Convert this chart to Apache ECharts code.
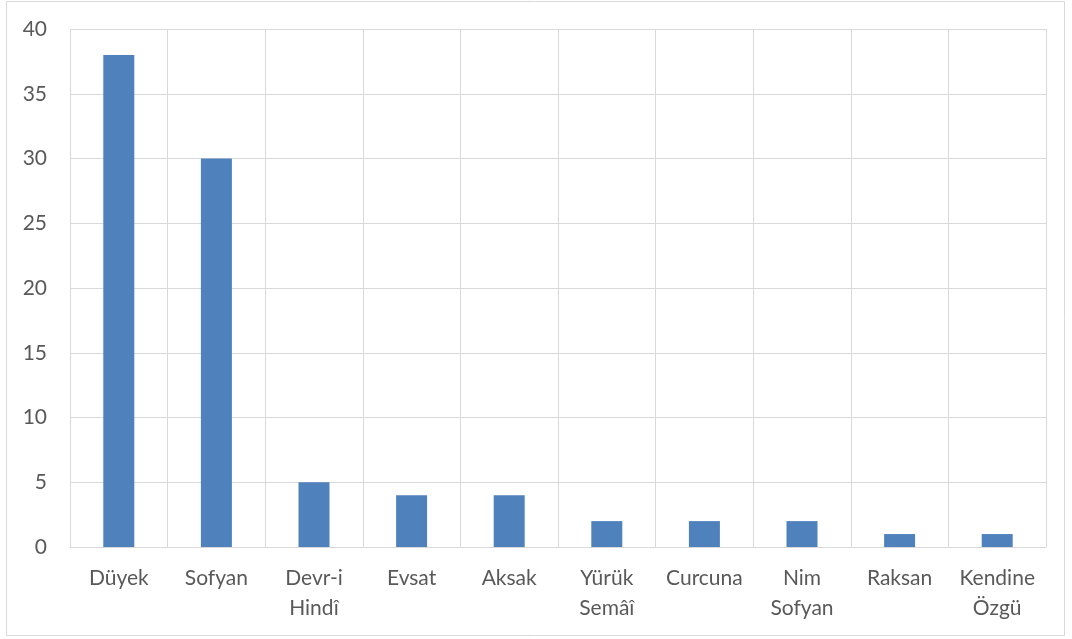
<!DOCTYPE html>
<html>
<head>
<meta charset="utf-8">
<script src="https://cdn.jsdelivr.net/npm/echarts@6/dist/echarts.min.js"></script>
<style>
  html, body { margin: 0; padding: 0; background: #fff; }
  #chart { width: 1072px; height: 639px; }
</style>
</head>
<body>
<div id="chart"></div>
<script>
// Usul (rhythmic cycle) counts
const categories = ['Düyek', 'Sofyan', 'Devr-i\nHindî', 'Evsat', 'Aksak', 'Yürük\nSemâî', 'Curcuna', 'Nim\nSofyan', 'Raksan', 'Kendine\nÖzgü'];
const counts = [38, 30, 5, 4, 4, 2, 2, 2, 1, 1];
const yTicks = { min: 0, max: 40, interval: 5 };

const chart = echarts.init(document.getElementById('chart'));
const labelStyle = { color: '#595959', fontSize: 21, fontFamily: 'Lato, "Open Sans", sans-serif' };
const gridLine = { color: '#d9d9d9', width: 1 };

chart.setOption({
  animation: false,
  graphic: [{
    type: 'rect',
    shape: { x: 6.5, y: 1.5, width: 1058, height: 634 },
    style: { fill: 'none', stroke: '#d9d9d9', lineWidth: 1 },
    silent: true
  }],
  grid: { left: 70, right: 26, top: 29, bottom: 92 },
  xAxis: {
    type: 'category',
    data: categories,
    axisLine: { show: true, lineStyle: gridLine },
    axisTick: { show: false },
    splitLine: { show: true, lineStyle: gridLine },
    axisLabel: Object.assign({ margin: 16, lineHeight: 30, interval: 0 }, labelStyle)
  },
  yAxis: {
    type: 'value',
    min: yTicks.min, max: yTicks.max, interval: yTicks.interval,
    axisLine: { show: false },
    axisTick: { show: false },
    splitLine: { show: true, lineStyle: gridLine },
    axisLabel: Object.assign({ margin: 23 }, labelStyle)
  },
  series: [{
    type: 'bar',
    data: counts,
    barWidth: 31,
    itemStyle: { color: '#4f81bd' }
  }]
});
</script>
</body>
</html>
